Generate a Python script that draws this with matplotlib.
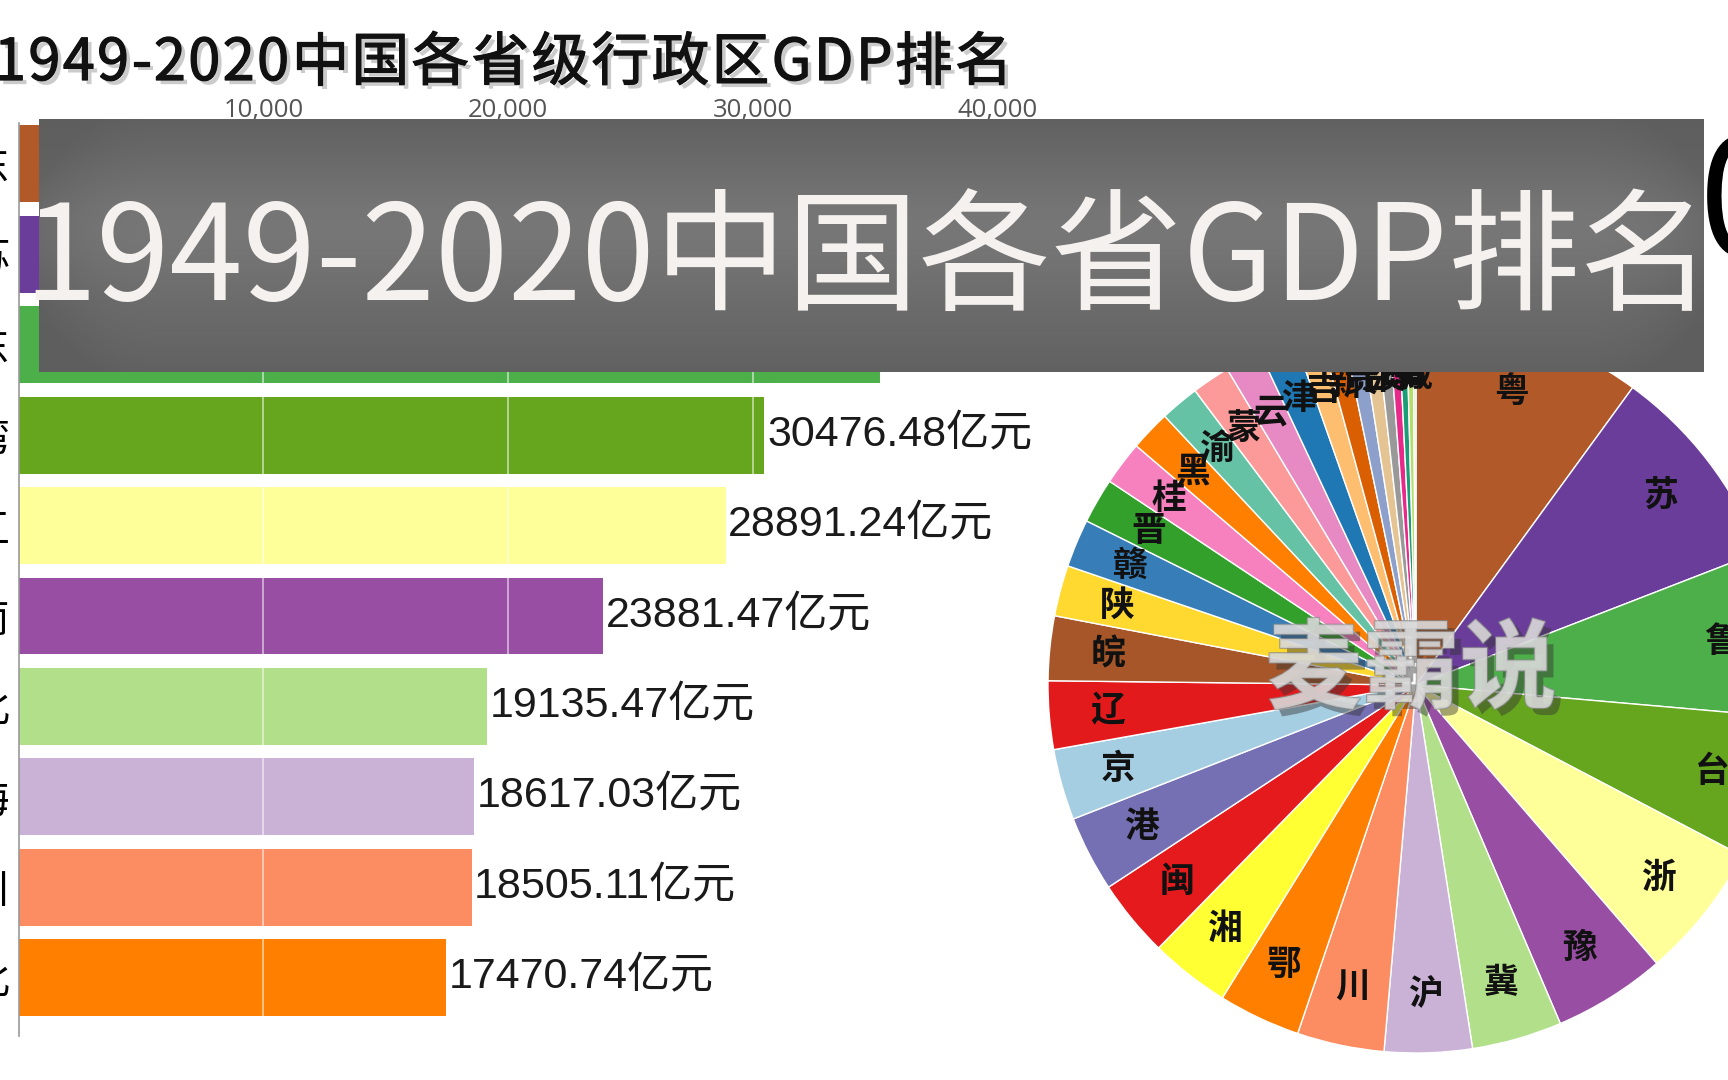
import numpy as np
import matplotlib
matplotlib.use("Agg")
import matplotlib.pyplot as plt
from matplotlib import patheffects as pe

plt.rcParams['font.family'] = ['Noto Sans CJK SC', 'DejaVu Sans']

W, H = 1728, 1080

# ---- data (亿元) ----
provinces = ["粤", "苏", "鲁", "台", "浙", "豫", "冀", "沪", "川", "鄂",
             "湘", "闽", "港", "京", "辽", "皖", "陕", "赣", "晋", "桂",
             "黑", "渝", "蒙", "云", "津", "吉", "新", "贵", "甘", "澳",
             "琼", "宁", "青", "藏"]
gdp = [48500, 44000, 35200, 30476.48, 28891.24, 23881.47, 19135.47, 18617.03,
       18505.11, 17470.74, 17000, 16500, 16100, 15100, 14500, 13700, 10800,
       10200, 9600, 9300, 8600, 8300, 8100, 7700, 7800, 5500, 4800, 3800,
       3400, 2700, 2100, 1700, 1400, 600]
colors = ["#B15928", "#6A3D9A", "#4DAF4A", "#66A61E", "#FFFF99", "#984EA3",
          "#B2DF8A", "#CAB2D6", "#FC8D62", "#FF7F00", "#FFFF33", "#E41A1C",
          "#7570B3", "#A6CEE3", "#E31A1C", "#A65628", "#FFD92F", "#377EB8",
          "#33A02C", "#F781BF", "#FF7F00", "#66C2A5", "#FB9A99", "#E78AC3",
          "#1F78B4", "#FDBF6F", "#D95F02", "#8DA0CB", "#E5C494", "#999999",
          "#E7298A", "#1B9E77", "#B3DE69", "#CCEBC5"]
bar_names = ["广东", "江苏", "山东", "台湾", "浙江", "河南", "河北", "上海", "四川", "湖北"]
xticks = [10000, 20000, 30000, 40000]

top_title = "1949-2020中国各省级行政区GDP排名"
banner_title = "1949-2020中国各省GDP排名"
year_text = "2010"
watermark = "麦霸说"


def box(x0, y0, x1, y1):
    """pixel box (top-down y) -> figure fraction rect"""
    return [x0 / W, 1 - y1 / H, (x1 - x0) / W, (y1 - y0) / H]


fig = plt.figure(figsize=(W / 100, H / 100), dpi=100)
fig.patch.set_facecolor("white")
renderer = fig.canvas.get_renderer()

# ---- pie ----
R = 368
cx, cy = 1416, 685
half = 400
axp = fig.add_axes(box(cx - half, cy - half, cx + half, cy + half))
wedges, _ = axp.pie(gdp, colors=colors, startangle=90, counterclock=False,
                    radius=1, wedgeprops=dict(edgecolor="white", linewidth=1.0))
lim = half / R
axp.set_xlim(-lim, lim)
axp.set_ylim(-lim, lim)
axp.axis("off")
for w, name in zip(wedges, provinces):
    th = np.deg2rad((w.theta1 + w.theta2) / 2)
    axp.text(0.84 * np.cos(th), 0.84 * np.sin(th), name, ha="center", va="center",
             fontsize=25, fontweight="bold", color="#111111")

# ---- bars ----
k = 24.47 / 1000          # px per 亿元
xmax = 49000
ax = fig.add_axes(box(18.7, 123, 18.7 + xmax * k, 1036))
ax.patch.set_visible(False)
vals = gdp[:10]
ypos = np.arange(10)
ax.barh(ypos, vals, height=0.85, color=colors[:10])
ax.set_xlim(0, xmax)
ax.set_ylim(9.645, -0.452)
ax.xaxis.tick_top()
ax.set_xticks(xticks)
ax.set_xticklabels([f"{v:,}" for v in xticks], fontfamily="Open Sans")
ax.set_yticks(ypos)
ax.set_yticklabels(bar_names)
ax.tick_params(axis="x", length=0, labelsize=18.5, labelcolor="#555555", pad=0)
ax.tick_params(axis="y", length=0, labelsize=29, pad=6)
for s in ("top", "right", "bottom"):
    ax.spines[s].set_visible(False)
ax.spines["left"].set_color("#999999")
ax.spines["left"].set_linewidth(1.2)
ax.grid(axis="x", color="white", alpha=0.6, linewidth=1.2)
ax.grid(axis="y", visible=False)
ax.set_axisbelow(False)
for y, v in zip(ypos, vals):
    ax.text(v + 100, y, f"{v:.2f}亿元", ha="left", va="center", fontsize=31,
            fontfamily=["Liberation Sans", "Noto Sans CJK SC"], color="#1a1a1a")

# ---- top title, drawn char by char for the wide letter spacing ----
x = -6
gap = 2.4
for ch in top_title:
    t = fig.text(x / W, 1 - 80 / H, ch, ha="left", va="baseline", fontsize=41.5,
                 color="#111111",
                 path_effects=[pe.SimplePatchShadow(offset=(3, -3), shadow_rgbFace="#999999", alpha=0.5),
                               pe.Stroke(linewidth=0.9, foreground="#111111"),
                               pe.Normal()])
    x += t.get_window_extent(renderer).width + gap

fig.text(1790 / W, 1 - 256 / H, year_text, ha="right", va="baseline", fontsize=118,
         color="black", zorder=3)

fig.text(1411 / W, 1 - 672 / H, watermark, ha="center", va="center", fontsize=70,
         fontweight="bold", color="#d8d8d8", alpha=0.7, zorder=5,
         path_effects=[pe.SimplePatchShadow(offset=(5, -5), shadow_rgbFace="#333333", alpha=0.45),
                       pe.Stroke(linewidth=1.5, foreground="#8a8a8a"),
                       pe.Normal()])

# ---- banner ----
bx0, by0, bx1, by1 = 38.6, 119, 1703, 372
axb = fig.add_axes(box(bx0, by0, bx1, by1))
axb.set_zorder(10)
bw, bh = int(bx1 - bx0), int(by1 - by0)
xx, yy = np.meshgrid(np.arange(bw), np.arange(bh))
Rc = 120
ex = np.clip(np.abs(xx - bw / 2) - (bw / 2 - Rc), 0, None) / Rc
ey = np.clip(np.abs(yy - bh / 2) - (bh / 2 - Rc), 0, None) / Rc
rr = np.sqrt(ex ** 2 + ey ** 2)
v = yy / bh
g = 0.425 + 0.04 * np.exp(-((v - 0.42) / 0.22) ** 2) - 0.045 * np.clip(rr, 0, 1.1) ** 2
axb.imshow(np.dstack([g, g, g]), aspect="auto", extent=(0, bw, bh, 0), interpolation="bilinear")
axb.axis("off")
fig.text(868 / W, 1 - 300 / H, banner_title, ha="center", va="baseline", fontsize=95,
         color="#F5F1EF", zorder=11)

fig.savefig("out.png", dpi=100)
